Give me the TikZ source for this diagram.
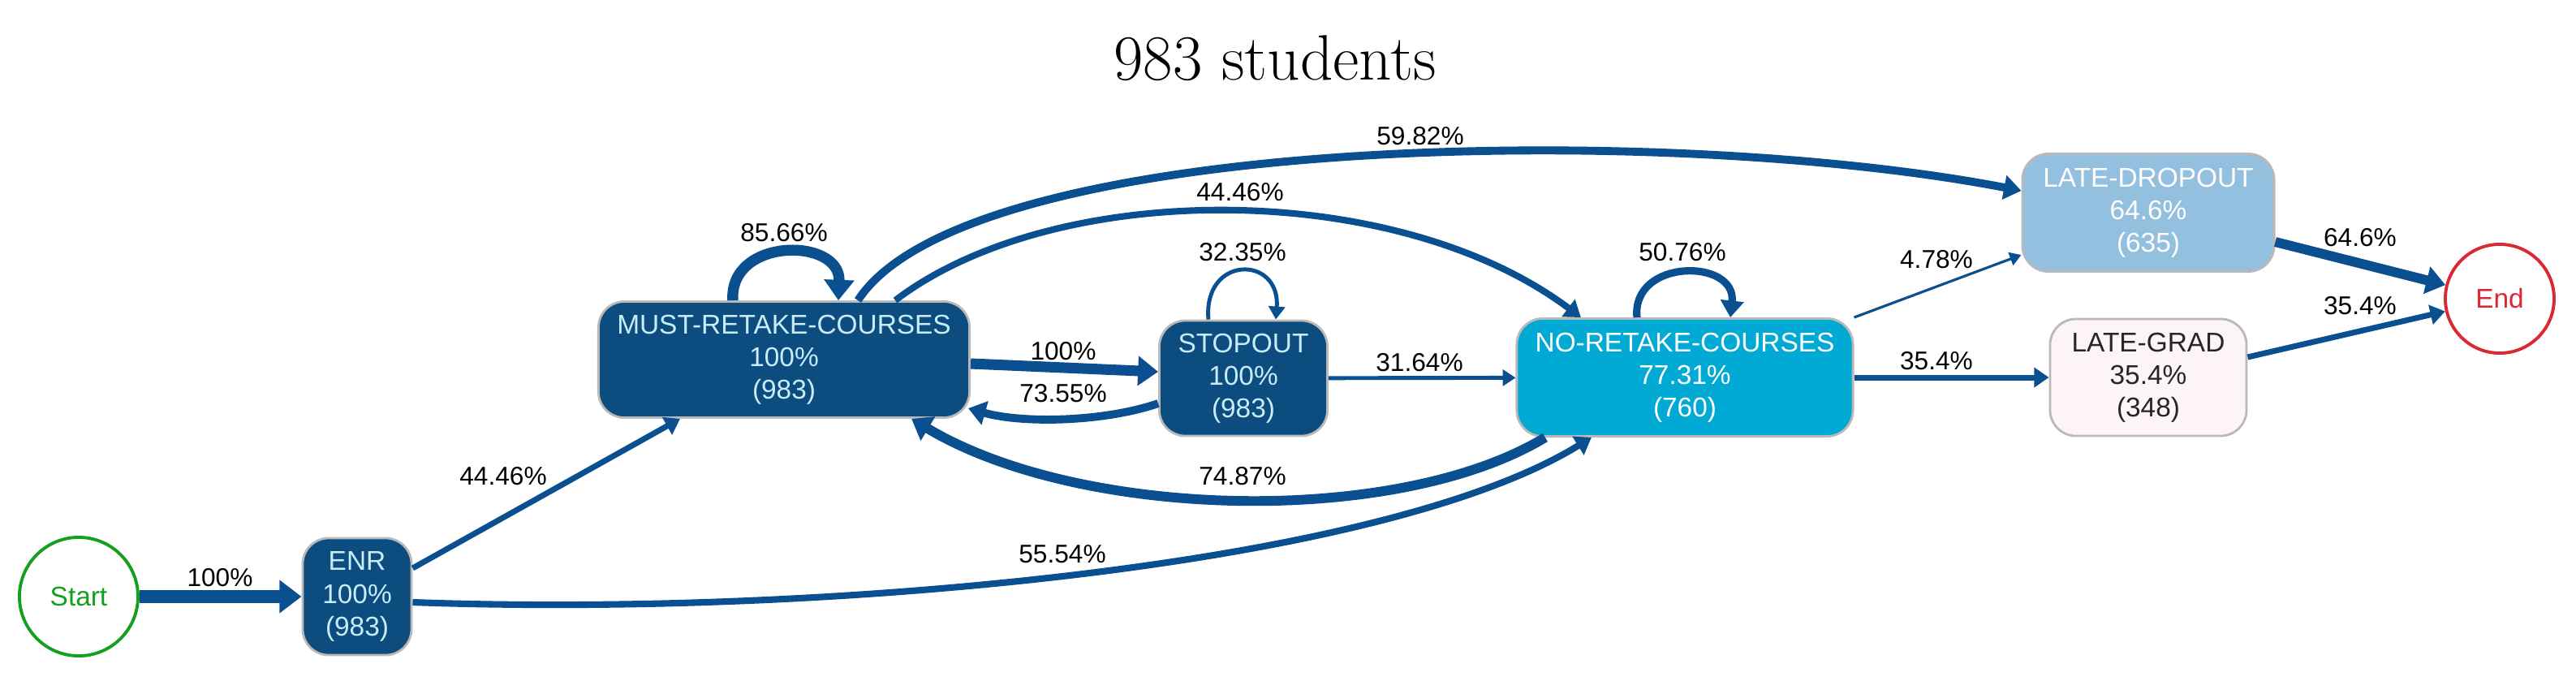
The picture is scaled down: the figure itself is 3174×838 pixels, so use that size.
\documentclass[tikz,border=0pt]{standalone}
\usepackage{fontspec}
\setsansfont{Liberation Sans}
\usetikzlibrary{arrows.meta}
\definecolor{edgeblue}{RGB}{10,80,145}
\definecolor{darkbox}{RGB}{12,76,126}
\definecolor{darktext}{RGB}{200,236,248}
\definecolor{cyanbox}{RGB}{0,170,212}
\definecolor{lightbox}{RGB}{148,192,224}
\definecolor{pinkbox}{RGB}{253,244,248}
\definecolor{startgreen}{RGB}{20,160,30}
\definecolor{endred}{RGB}{220,40,50}
\definecolor{boxborder}{RGB}{185,185,185}
\begin{document}
\begin{tikzpicture}[x=0.01cm,y=-0.01cm,
  stbox/.style={rectangle, rounded corners=0.32cm, draw=boxborder, line width=0.8pt, align=center,
    font=\sffamily\fontsize{9.5}{11.4}\selectfont, inner sep=0pt},
  darkstate/.style={stbox, fill=darkbox, text=darktext},
  termc/.style={circle, line width=1.1pt, font=\sffamily\fontsize{9.5}{11.4}\selectfont, inner sep=0pt},
  flow/.style={draw=edgeblue, -{Triangle[length=3pt 1.1,width=3pt 1.9]}},
  lbl/.style={font=\sffamily\fontsize{9}{10}\selectfont, inner sep=0pt, text=black}
]
\useasboundingbox (0,0) rectangle (3174,838);

% title
\node[font=\fontsize{22.5}{27}\selectfont, inner sep=0pt] (title) at (1571,72) {983 students};

% states
\node[termc, draw=startgreen, text=startgreen, minimum size=1.46cm] (startn) at (97,735) {Start};
\node[darkstate, minimum width=1.34cm, minimum height=1.44cm] (enr) at (440,735) {ENR\\100\%\\(983)};
\node[darkstate, minimum width=4.57cm, minimum height=1.43cm] (must) at (966,443) {MUST-RETAKE-COURSES\\100\%\\(983)};
\node[darkstate, minimum width=2.07cm, minimum height=1.42cm] (stop) at (1532,466) {STOPOUT\\100\%\\(983)};
\node[stbox, fill=cyanbox, text=white, minimum width=4.14cm, minimum height=1.45cm] (noret) at (2076,465) {NO-RETAKE-COURSES\\77.31\%\\(760)};
\node[stbox, fill=lightbox, text=white, minimum width=3.10cm, minimum height=1.45cm] (latedrop) at (2647,262) {LATE-DROPOUT\\64.6\%\\(635)};
\node[stbox, fill=pinkbox, text=black!85, minimum width=2.42cm, minimum height=1.44cm] (lategrad) at (2647,465) {LATE-GRAD\\35.4\%\\(348)};
\node[termc, draw=endred, text=endred, minimum size=1.34cm] (endn) at (3080,368) {End};

% connectors
\draw[flow, line width=4.3pt] (startn) -- (enr);
\draw[flow, line width=2pt] ([yshift=0.35cm]enr.east) -- ([xshift=-1.28cm]must.south);
\draw[flow, line width=2.3pt] ([yshift=-0.07cm]enr.east) .. controls (1000,760) and (1700,700) .. ([xshift=-1.15cm]noret.south);
\draw[flow, line width=3.8pt] ([xshift=-0.63cm]must.north) .. controls (898,292) and (1036,292) .. ([xshift=0.67cm]must.north);
\draw[flow, line width=3.7pt] ([yshift=-0.05cm]must.east) -- ([yshift=0.08cm]stop.west);
\draw[flow, line width=2.8pt] ([yshift=-0.31cm]stop.west) .. controls (1360,520) and (1260,522) .. ([yshift=-0.60cm,xshift=-0.03cm]must.east);
\draw[flow, line width=1.4pt] ([xshift=-0.43cm]stop.north) .. controls (1482,314) and (1578,314) .. ([xshift=0.40cm]stop.north);
\draw[flow, line width=1.4pt] (stop) -- (noret);
\draw[flow, line width=2.8pt] ([xshift=0.91cm]must.north) .. controls (1190,165) and (2050,150) .. ([yshift=0.27cm]latedrop.west);
\draw[flow, line width=2.3pt] ([xshift=1.37cm]must.north) .. controls (1300,220) and (1720,220) .. ([xshift=-1.28cm]noret.north);
\draw[flow, line width=3.4pt] ([xshift=-1.72cm]noret.south) .. controls (1720,650) and (1330,640) .. ([xshift=1.57cm]must.south);
\draw[flow, line width=2.6pt] ([xshift=-0.59cm]noret.north) .. controls (2010,318) and (2140,318) .. ([xshift=0.56cm]noret.north);
\draw[flow, line width=0.9pt] (noret.north east) -- ([yshift=-0.52cm]latedrop.west);
\draw[flow, line width=2pt] (noret) -- (lategrad);
\draw[flow, line width=3.4pt] ([yshift=-0.36cm]latedrop.east) -- (endn);
\draw[flow, line width=2pt] ([yshift=0.25cm]lategrad.east) -- (endn);

% labels
\node[lbl] (l1) at (271,712) {100\%};
\node[lbl] (l2) at (620,587) {44.46\%};
\node[lbl] (l3) at (1309,683) {55.54\%};
\node[lbl] (l4) at (966,287) {85.66\%};
\node[lbl] (l5) at (1750,168) {59.82\%};
\node[lbl] (l6) at (1528,237) {44.46\%};
\node[lbl] (l7) at (1310,433) {100\%};
\node[lbl] (l8) at (1310,485) {73.55\%};
\node[lbl] (l9) at (1531,311) {32.35\%};
\node[lbl] (l10) at (1749,447) {31.64\%};
\node[lbl] (l11) at (1531,587) {74.87\%};
\node[lbl] (l12) at (2073,311) {50.76\%};
\node[lbl] (l13) at (2386,320) {4.78\%};
\node[lbl] (l14) at (2386,445) {35.4\%};
\node[lbl] (l15) at (2908,293) {64.6\%};
\node[lbl] (l16) at (2908,377) {35.4\%};
\end{tikzpicture}
\end{document}
